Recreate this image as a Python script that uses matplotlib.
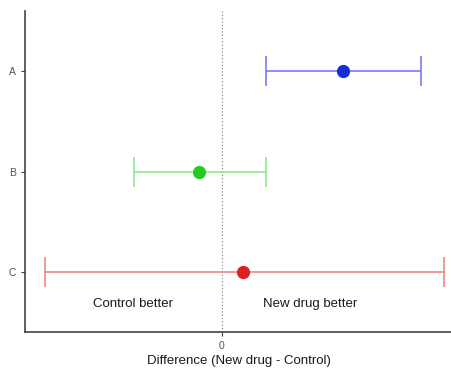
import matplotlib
matplotlib.use("Agg")
import matplotlib.pyplot as plt

plt.rcParams["font.family"] = ["Liberation Sans", "DejaVu Sans"]

groups = ["A", "B", "C"]
ypos = [3, 2, 1]
means = [2.42, -0.46, 0.42]
lower = [0.88, -1.76, -3.54]
upper = [3.98, 0.88, 4.44]
point_colors = ["#1530d0", "#22cc22", "#dd2020"]
bar_colors = ["#7070ee", "#80e880", "#ee7a7a"]

fig = plt.figure(figsize=(4.52, 3.69), dpi=100)
ax = fig.add_axes([25 / 452, 37 / 369, 1 - 25 / 452, 321 / 369])

ax.axvline(0, color="#777777", lw=0.8, ls=(0, (1, 2)), zorder=1)
for y, m, lo, hi, pc, bc in zip(ypos, means, lower, upper, point_colors, bar_colors):
    ax.errorbar(m, y, xerr=[[m - lo], [hi - m]], fmt="none", ecolor=bc,
                elinewidth=1.1, capsize=10.8, capthick=1.1, zorder=2)
    ax.plot(m, y, "o", color=pc, ms=8.5, zorder=3)

ax.text(-1.78, 0.68, "Control better", ha="center", va="center", fontsize=9.5, color="#1a1a1a")
ax.text(1.76, 0.68, "New drug better", ha="center", va="center", fontsize=9.5, color="#1a1a1a")

ax.set_xlim(-3.94, 4.6)
ax.set_ylim(0.4, 3.6)
ax.set_yticks(ypos)
ax.set_yticklabels(groups)
ax.set_xticks([0])
ax.set_xticklabels(["0"])
ax.tick_params(colors="#444444", labelcolor="#555555", labelsize=7.5, length=3, width=0.8)
ax.set_xlabel("Difference (New drug - Control)", fontsize=9.5, color="#1a1a1a", labelpad=3)
for s in ["top", "right"]:
    ax.spines[s].set_visible(False)
for s in ["left", "bottom"]:
    ax.spines[s].set_color("#444444")
    ax.spines[s].set_linewidth(1.2)

fig.savefig("out.png", dpi=100)
